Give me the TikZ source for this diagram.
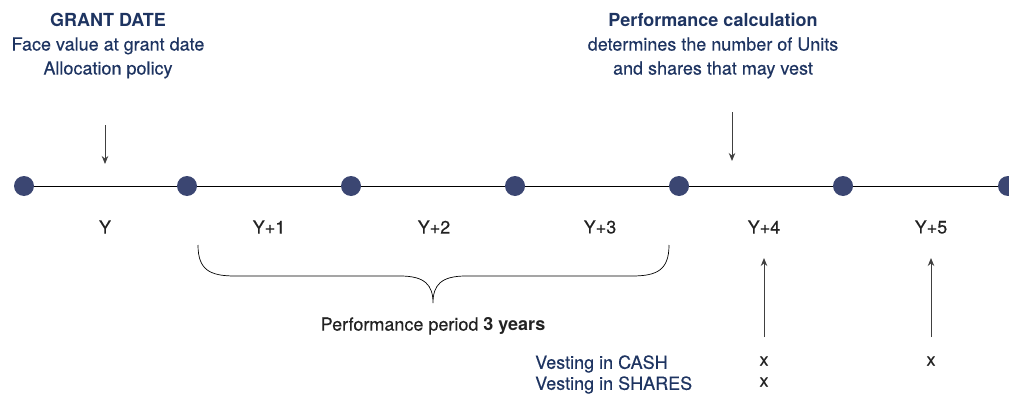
\documentclass[tikz,border=0pt]{standalone}
\usepackage{fontspec}
\setmainfont{TeX Gyre Heros}[UprightFeatures={FakeBold=0.35}]
\usetikzlibrary{arrows.meta}
\definecolor{navy}{HTML}{1E3461}
\definecolor{dotc}{HTML}{3B4672}
\definecolor{txt}{HTML}{222222}
\begin{document}
\begin{tikzpicture}[x=1pt,y=-1pt,
  dot/.style={circle,fill=dotc,inner sep=0pt,minimum size=20pt},
  yr/.style={font=\fontsize{18}{21}\selectfont,text=txt,inner sep=0pt},
  hdr/.style={font=\fontsize{18}{24}\selectfont,text=navy,align=center,inner sep=0pt},
  arr/.style={-{Stealth[length=8pt,width=6.5pt]},line width=0.9pt,draw=black!75},
  mk/.style={font=\fontsize{18}{21}\selectfont,text=txt,inner sep=0pt}]
\useasboundingbox (0,0) rectangle (1009,396);
\foreach \i/\x in {0/24,1/187,2/351,3/515,4/679,5/843,6/1008}
  \node[dot] (d\i) at (\x,186) {};
\draw[line width=0.9pt] (d0) -- (d1) -- (d2) -- (d3) -- (d4) -- (d5) -- (d6);
\node[yr] (y0) at (105,227) {Y};
\node[yr] (y1) at (269,227) {Y+1};
\node[yr] (y2) at (434,227) {Y+2};
\node[yr] (y3) at (600,227) {Y+3};
\node[yr] (y4) at (764,227) {Y+4};
\node[yr] (y5) at (931,227) {Y+5};
\node[hdr,anchor=north] (g) at (108,13) {\textbf{GRANT DATE}\\Face value at grant date\\Allocation policy};
\node[hdr,anchor=north] (p) at (713,13) {\textbf{Performance calculation}\\determines the number of Units\\and shares that may vest};
\coordinate (ga) at (105,125);
\coordinate (gb) at (105,164);
\draw[arr] (ga) -- (gb);
\coordinate (pa) at (732,112);
\coordinate (pb) at (732,161);
\draw[arr] (pa) -- (pb);
\coordinate (b) at (198,245);
\coordinate (bm) at (433,303);
\draw[line width=0.7pt] (b) .. controls (198,270) and (210,276) .. (235,276)
  -- (400,276) .. controls (425,276) and (433,285) .. (bm)
  .. controls (433,285) and (441,276) .. (466,276)
  -- (632,276) .. controls (657,276) and (669,270) .. (669,245);
\node[yr] (pp) at (433,326) {Performance period \textbf{3 years}};
\node[mk] (x1) at (764,361) {x};
\node[mk] (x2) at (764,382) {x};
\node[mk] (x3) at (931,361) {x};
\coordinate (u1a) at (764,337);
\coordinate (u1b) at (764,258);
\coordinate (u2a) at (931,337);
\coordinate (u2b) at (931,258);
\draw[arr] (u1a) -- (u1b);
\draw[arr] (u2a) -- (u2b);
\node[hdr,anchor=west] (vc) at (535,364) {Vesting in CASH};
\node[hdr,anchor=west] (vs) at (535,385) {Vesting in SHARES};
\end{tikzpicture}
\end{document}
